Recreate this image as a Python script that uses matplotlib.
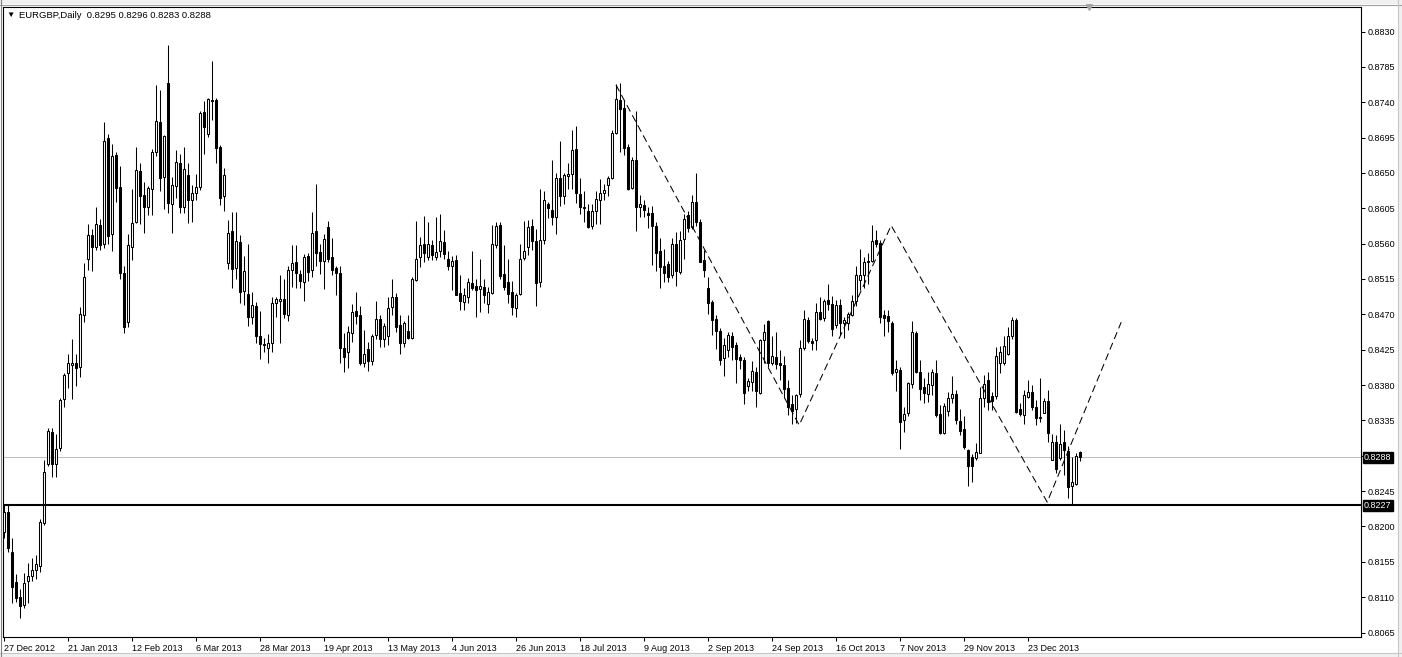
import matplotlib
matplotlib.use('Agg')
import matplotlib.pyplot as plt
import matplotlib.transforms as mtransforms
from matplotlib.patches import Rectangle
import numpy as np

# EURGBP daily candles, 27 Dec 2012 .. early Jan 2014
opens = [
    .8193, .8219, .8167, .8129, .8110, .8100, .8131, .8137, .8144, .8150,
    .8204, .8279, .8320, .8280, .8300, .8362, .8395, .8406, .8408, .8403,
    .8469, .8540, .8571, .8556, .8584, .8560, .8695, .8572, .8673, .8632,
    .8523, .8460, .8556, .8587, .8652, .8622, .8606, .8629, .8676, .8715,
    .8645, .8765, .8611, .8633, .8663, .8607, .8647, .8615, .8625, .8632,
    .8727, .8700, .8743, .8743, .8683, .8620, .8535, .8576, .8529, .8562,
    .8500, .8496, .8466, .8481, .8442, .8432, .8427, .8434, .8484, .8487,
    .8490, .8469, .8526, .8536, .8521, .8511, .8544, .8526, .8576, .8549,
    .8538, .8581, .8543, .8529, .8522, .8427, .8422, .8446, .8474, .8469,
    .8408, .8426, .8410, .8444, .8464, .8438, .8442, .8479, .8492, .8456,
    .8433, .8449, .8440, .8514, .8543, .8559, .8543, .8558, .8543, .8550,
    .8562, .8541, .8531, .8539, .8497, .8486, .8492, .8510, .8506, .8502,
    .8505, .8483, .8497, .8558, .8584, .8521, .8511, .8498, .8478, .8496,
    .8542, .8556, .8582, .8563, .8511, .8565, .8610, .8603, .8594, .8643,
    .8621, .8646, .8648, .8680, .8623, .8606, .8601, .8582, .8601, .8615,
    .8625, .8634, .8644, .8701, .8743, .8733, .8683, .8631, .8666, .8607,
    .8609, .8599, .8599, .8582, .8550, .8532, .8534, .8520, .8559, .8524,
    .8566, .8597, .8581, .8613, .8587, .8539, .8503, .8486, .8464, .8449,
    .8414, .8425, .8442, .8431, .8416, .8412, .8379, .8384, .8397, .8370,
    .8437, .8461, .8408, .8416, .8408, .8405, .8376, .8356, .8349, .8368,
    .8427, .8463, .8436, .8437, .8473, .8465, .8488, .8483, .8456, .8482,
    .8459, .8459, .8469, .8487, .8514, .8520, .8536, .8538, .8565, .8561,
    .8469, .8468, .8459, .8396, .8399, .8335, .8344, .8381, .8446, .8396,
    .8377, .8369, .8380, .8395, .8343, .8319, .8347, .8364, .8369, .8334,
    .8324, .8297, .8289, .8287, .8294, .8363, .8387, .8366, .8366, .8408,
    .8408, .8420, .8442, .8463, .8350, .8342, .8365, .8371, .8352, .8339,
    .8345, .8360, .8285, .8307, .8287, .8307, .8296, .8251, .8254, .8295,
]
highs = [
    .8227, .8227, .8185, .8140, .8120, .8141, .8153, .8160, .8164, .8210,
    .8285, .8325, .8325, .8318, .8363, .8395, .8420, .8439, .8420, .8479,
    .8535, .8585, .8579, .8606, .8591, .8715, .8700, .8687, .8677, .8659,
    .8531, .8572, .8630, .8683, .8663, .8639, .8633, .8681, .8762, .8756,
    .8698, .8813, .8645, .8679, .8674, .8683, .8663, .8634, .8649, .8729,
    .8742, .8746, .8792, .8745, .8686, .8656, .8590, .8600, .8600, .8571,
    .8544, .8559, .8498, .8486, .8474, .8440, .8445, .8492, .8492, .8520,
    .8515, .8532, .8558, .8558, .8527, .8547, .8548, .8600, .8636, .8560,
    .8572, .8589, .8567, .8532, .8532, .8446, .8455, .8483, .8498, .8480,
    .8450, .8435, .8445, .8487, .8469, .8459, .8492, .8515, .8497, .8469,
    .8461, .8469, .8518, .8589, .8568, .8595, .8588, .8565, .8594, .8598,
    .8577, .8550, .8544, .8546, .8520, .8503, .8516, .8550, .8515, .8540,
    .8515, .8505, .8584, .8587, .8588, .8558, .8540, .8512, .8497, .8559,
    .8589, .8590, .8591, .8579, .8630, .8627, .8613, .8667, .8650, .8691,
    .8650, .8663, .8705, .8710, .8644, .8627, .8611, .8610, .8627, .8642,
    .8636, .8646, .8705, .8763, .8765, .8743, .8687, .8670, .8729, .8622,
    .8616, .8607, .8608, .8588, .8567, .8553, .8538, .8567, .8575, .8576,
    .8598, .8601, .8622, .8650, .8591, .8552, .8517, .8488, .8469, .8452,
    .8440, .8448, .8447, .8435, .8420, .8416, .8389, .8410, .8403, .8438,
    .8458, .8463, .8442, .8448, .8425, .8417, .8387, .8367, .8369, .8437,
    .8476, .8467, .8440, .8485, .8492, .8490, .8509, .8493, .8488, .8490,
    .8466, .8473, .8495, .8532, .8553, .8543, .8548, .8584, .8577, .8565,
    .8476, .8476, .8461, .8412, .8403, .8352, .8384, .8461, .8449, .8412,
    .8389, .8397, .8401, .8412, .8355, .8357, .8371, .8391, .8374, .8350,
    .8340, .8299, .8292, .8306, .8378, .8393, .8397, .8371, .8429, .8430,
    .8442, .8454, .8466, .8465, .8357, .8374, .8387, .8380, .8361, .8389,
    .8363, .8374, .8318, .8316, .8331, .8323, .8303, .8289, .8293, .8296,
]
lows = [
    .8185, .8168, .8102, .8104, .8084, .8096, .8103, .8131, .8133, .8142,
    .8202, .8277, .8263, .8263, .8296, .8352, .8376, .8362, .8379, .8390,
    .8460, .8526, .8525, .8552, .8552, .8555, .8560, .8550, .8613, .8515,
    .8446, .8454, .8539, .8586, .8585, .8573, .8597, .8596, .8672, .8627,
    .8604, .8599, .8574, .8618, .8599, .8599, .8586, .8587, .8616, .8628,
    .8674, .8696, .8717, .8662, .8609, .8601, .8528, .8503, .8515, .8484,
    .8482, .8455, .8458, .8434, .8413, .8422, .8408, .8422, .8467, .8434,
    .8465, .8461, .8505, .8503, .8503, .8487, .8512, .8518, .8532, .8521,
    .8502, .8537, .8520, .8495, .8408, .8396, .8402, .8435, .8458, .8405,
    .8403, .8398, .8405, .8439, .8429, .8429, .8431, .8469, .8448, .8419,
    .8428, .8438, .8438, .8513, .8530, .8536, .8539, .8539, .8539, .8543,
    .8540, .8526, .8501, .8495, .8475, .8475, .8485, .8501, .8467, .8473,
    .8485, .8472, .8496, .8554, .8515, .8501, .8484, .8469, .8467, .8494,
    .8539, .8546, .8552, .8480, .8505, .8560, .8593, .8584, .8572, .8608,
    .8611, .8629, .8629, .8612, .8598, .8588, .8580, .8579, .8585, .8585,
    .8616, .8621, .8642, .8700, .8677, .8673, .8628, .8629, .8576, .8594,
    .8594, .8580, .8533, .8525, .8503, .8511, .8511, .8516, .8506, .8521,
    .8540, .8575, .8579, .8582, .8536, .8518, .8470, .8444, .8426, .8405,
    .8391, .8416, .8412, .8382, .8401, .8356, .8372, .8372, .8352, .8369,
    .8408, .8403, .8406, .8401, .8386, .8363, .8342, .8331, .8332, .8365,
    .8425, .8433, .8425, .8424, .8463, .8461, .8476, .8442, .8452, .8444,
    .8440, .8450, .8468, .8480, .8501, .8503, .8509, .8536, .8556, .8459,
    .8443, .8448, .8393, .8372, .8299, .8320, .8341, .8376, .8395, .8361,
    .8357, .8359, .8367, .8339, .8318, .8318, .8340, .8357, .8331, .8316,
    .8298, .8251, .8257, .8284, .8293, .8352, .8348, .8348, .8362, .8395,
    .8405, .8418, .8439, .8344, .8340, .8331, .8363, .8348, .8329, .8333,
    .8344, .8308, .8284, .8268, .8285, .8266, .8236, .8227, .8253, .8283,
]
closes = [
    .8219, .8173, .8123, .8109, .8099, .8128, .8137, .8145, .8152, .8206,
    .8269, .8321, .8279, .8299, .8361, .8393, .8408, .8408, .8402, .8470,
    .8517, .8571, .8556, .8585, .8558, .8691, .8570, .8672, .8631, .8522,
    .8454, .8558, .8586, .8654, .8621, .8607, .8631, .8677, .8716, .8644,
    .8697, .8612, .8635, .8664, .8607, .8655, .8616, .8624, .8632, .8726,
    .8708, .8744, .8742, .8682, .8618, .8647, .8574, .8528, .8563, .8499,
    .8525, .8467, .8482, .8443, .8432, .8431, .8434, .8484, .8489, .8489,
    .8470, .8526, .8535, .8522, .8512, .8543, .8524, .8574, .8548, .8538,
    .8566, .8540, .8527, .8523, .8427, .8416, .8447, .8473, .8468, .8408,
    .8420, .8411, .8443, .8464, .8439, .8455, .8478, .8492, .8454, .8434,
    .8459, .8440, .8515, .8541, .8558, .8548, .8559, .8545, .8549, .8563,
    .8547, .8532, .8538, .8495, .8487, .8495, .8511, .8504, .8501, .8506,
    .8495, .8498, .8559, .8582, .8519, .8505, .8496, .8479, .8495, .8541,
    .8550, .8581, .8563, .8510, .8565, .8616, .8605, .8594, .8644, .8621,
    .8647, .8648, .8679, .8624, .8606, .8605, .8581, .8602, .8617, .8625,
    .8628, .8644, .8701, .8744, .8732, .8682, .8630, .8667, .8607, .8610,
    .8603, .8597, .8582, .8548, .8530, .8523, .8518, .8560, .8525, .8565,
    .8591, .8580, .8613, .8588, .8537, .8526, .8484, .8463, .8449, .8412,
    .8431, .8444, .8429, .8413, .8412, .8370, .8385, .8398, .8372, .8437,
    .8448, .8408, .8417, .8407, .8405, .8375, .8352, .8347, .8367, .8427,
    .8464, .8436, .8434, .8473, .8464, .8487, .8483, .8451, .8482, .8459,
    .8463, .8470, .8487, .8520, .8520, .8536, .8538, .8563, .8560, .8467,
    .8465, .8461, .8395, .8401, .8333, .8343, .8382, .8447, .8397, .8375,
    .8370, .8381, .8397, .8342, .8319, .8353, .8364, .8369, .8335, .8322,
    .8301, .8277, .8277, .8295, .8363, .8381, .8359, .8360, .8417, .8422,
    .8430, .8442, .8463, .8346, .8343, .8367, .8371, .8352, .8338, .8338,
    .8360, .8319, .8307, .8273, .8305, .8297, .8250, .8256, .8290, .8288,
]

date_bars = [0, 16, 32, 48, 64, 80, 96, 112, 128, 144, 160, 176, 192, 208, 224, 240, 256]
date_labels = ['27 Dec 2012', '21 Jan 2013', '12 Feb 2013', '6 Mar 2013', '28 Mar 2013',
               '19 Apr 2013', '13 May 2013', '4 Jun 2013', '26 Jun 2013', '18 Jul 2013',
               '9 Aug 2013', '2 Sep 2013', '24 Sep 2013', '16 Oct 2013', '7 Nov 2013',
               '29 Nov 2013', '23 Dec 2013']

price_ticks = [0.8065, 0.8110, 0.8155, 0.8200, 0.8245, 0.8290, 0.8335, 0.8380, 0.8425,
               0.8470, 0.8515, 0.8560, 0.8605, 0.8650, 0.8695, 0.8740, 0.8785, 0.8830]

support_level = 0.8227
bid_price = 0.8288

# hand drawn zig-zag (bar index, price)
zz_bars = [153, 198.8, 221.8, 260.8, 279.3]
zz_prices = [0.8762, 0.8329, 0.8583, 0.8231, 0.8460]

title = 'EURGBP,Daily  0.8295 0.8296 0.8283 0.8288'

plt.rcParams['font.family'] = ['Liberation Sans', 'DejaVu Sans']
FS = 6.5
W, H = 1402, 657

fig = plt.figure(figsize=(W / 100, H / 100), dpi=100)
fig.patch.set_facecolor('white')

# window chrome
fig.add_artist(Rectangle((0, 1 - 4 / H), 1, 4 / H, transform=fig.transFigure,
                         facecolor='#f0f0f0', edgecolor='none'))
fig.add_artist(plt.Line2D([0, 1], [1 - 4.5 / H, 1 - 4.5 / H], transform=fig.transFigure,
                          color='#a0a0a0', lw=0.8))
fig.add_artist(Rectangle((0, 0), 1, 4 / H, transform=fig.transFigure,
                         facecolor='#f0f0f0', edgecolor='none'))
fig.add_artist(plt.Line2D([0, 1], [4.5 / H, 4.5 / H], transform=fig.transFigure,
                          color='#c8c8c8', lw=0.8))
fig.add_artist(Rectangle((1 - 4 / W, 0), 4 / W, 1, transform=fig.transFigure,
                         facecolor='#f0f0f0', edgecolor='none'))
fig.add_artist(plt.Line2D([1 - 4.5 / W, 1 - 4.5 / W], [0, 1], transform=fig.transFigure,
                          color='#c8c8c8', lw=0.8))
fig.add_artist(plt.Line2D([1 / W, 1 / W], [0, 1], transform=fig.transFigure,
                          color='#808080', lw=0.8))

ax = fig.add_axes([3 / W, 20 / H, 1358 / W, 630 / H])
ax.set_facecolor('white')

x = np.arange(len(closes))
o = np.array(opens)
c = np.array(closes)
h = np.array(highs)
l = np.array(lows)
up = c >= o

ax.vlines(x, l, h, color='black', linewidth=0.75, zorder=2)
ax.bar(x, np.abs(c - o), bottom=np.minimum(o, c), width=0.5,
       color=np.where(up, 'white', 'black'), edgecolor='black', linewidth=0.75, zorder=3)

ax.axhline(bid_price, color='#c0c0c0', lw=0.75, zorder=1)
ax.axhline(support_level, color='black', lw=1.5, zorder=4)
ax.plot(zz_bars, zz_prices, color='black', lw=0.75, dashes=(7, 4), zorder=5)

ax.set_xlim(-0.25, 339.25)
ax.set_ylim(0.80593, 0.88612)

ax.yaxis.tick_right()
ax.set_yticks(price_ticks)
# the bid tag sits on top of the 0.8290 level, so that label is hidden
ax.set_yticklabels(['' if abs(p - bid_price) < 0.0005 else '%.4f' % p for p in price_ticks])
ax.set_xticks(date_bars)
ax.set_xticklabels(date_labels, ha='left')
ax.tick_params(axis='both', direction='out', length=3, width=0.75, labelsize=FS,
               colors='black', pad=2)
for s in ax.spines.values():
    s.set_linewidth(0.8)
    s.set_color('black')

# price tags on the right scale
tr = mtransforms.blended_transform_factory(ax.transAxes, ax.transData)
for p in [bid_price, support_level]:
    ax.text(1 + 3 / 1358, p, '%.4f' % p, transform=tr, ha='left', va='center',
            fontsize=FS, color='white', clip_on=False, zorder=6,
            bbox=dict(boxstyle='square,pad=0.12', facecolor='black', edgecolor='black'))

# chart shift marker
ax.plot([0.80], [1.0], transform=ax.transAxes, marker='v', color='#a8a8a8',
        markersize=4.5, clip_on=False, zorder=6)

# header
fig.text(10.3 / W, 1 - 15.7 / H, '\u25bc', fontsize=6, ha='center', va='center')
fig.text(19 / W, 1 - 15.7 / H, title, fontsize=6.8, ha='left', va='center')

fig.savefig('out.png', dpi=100, facecolor='white')
